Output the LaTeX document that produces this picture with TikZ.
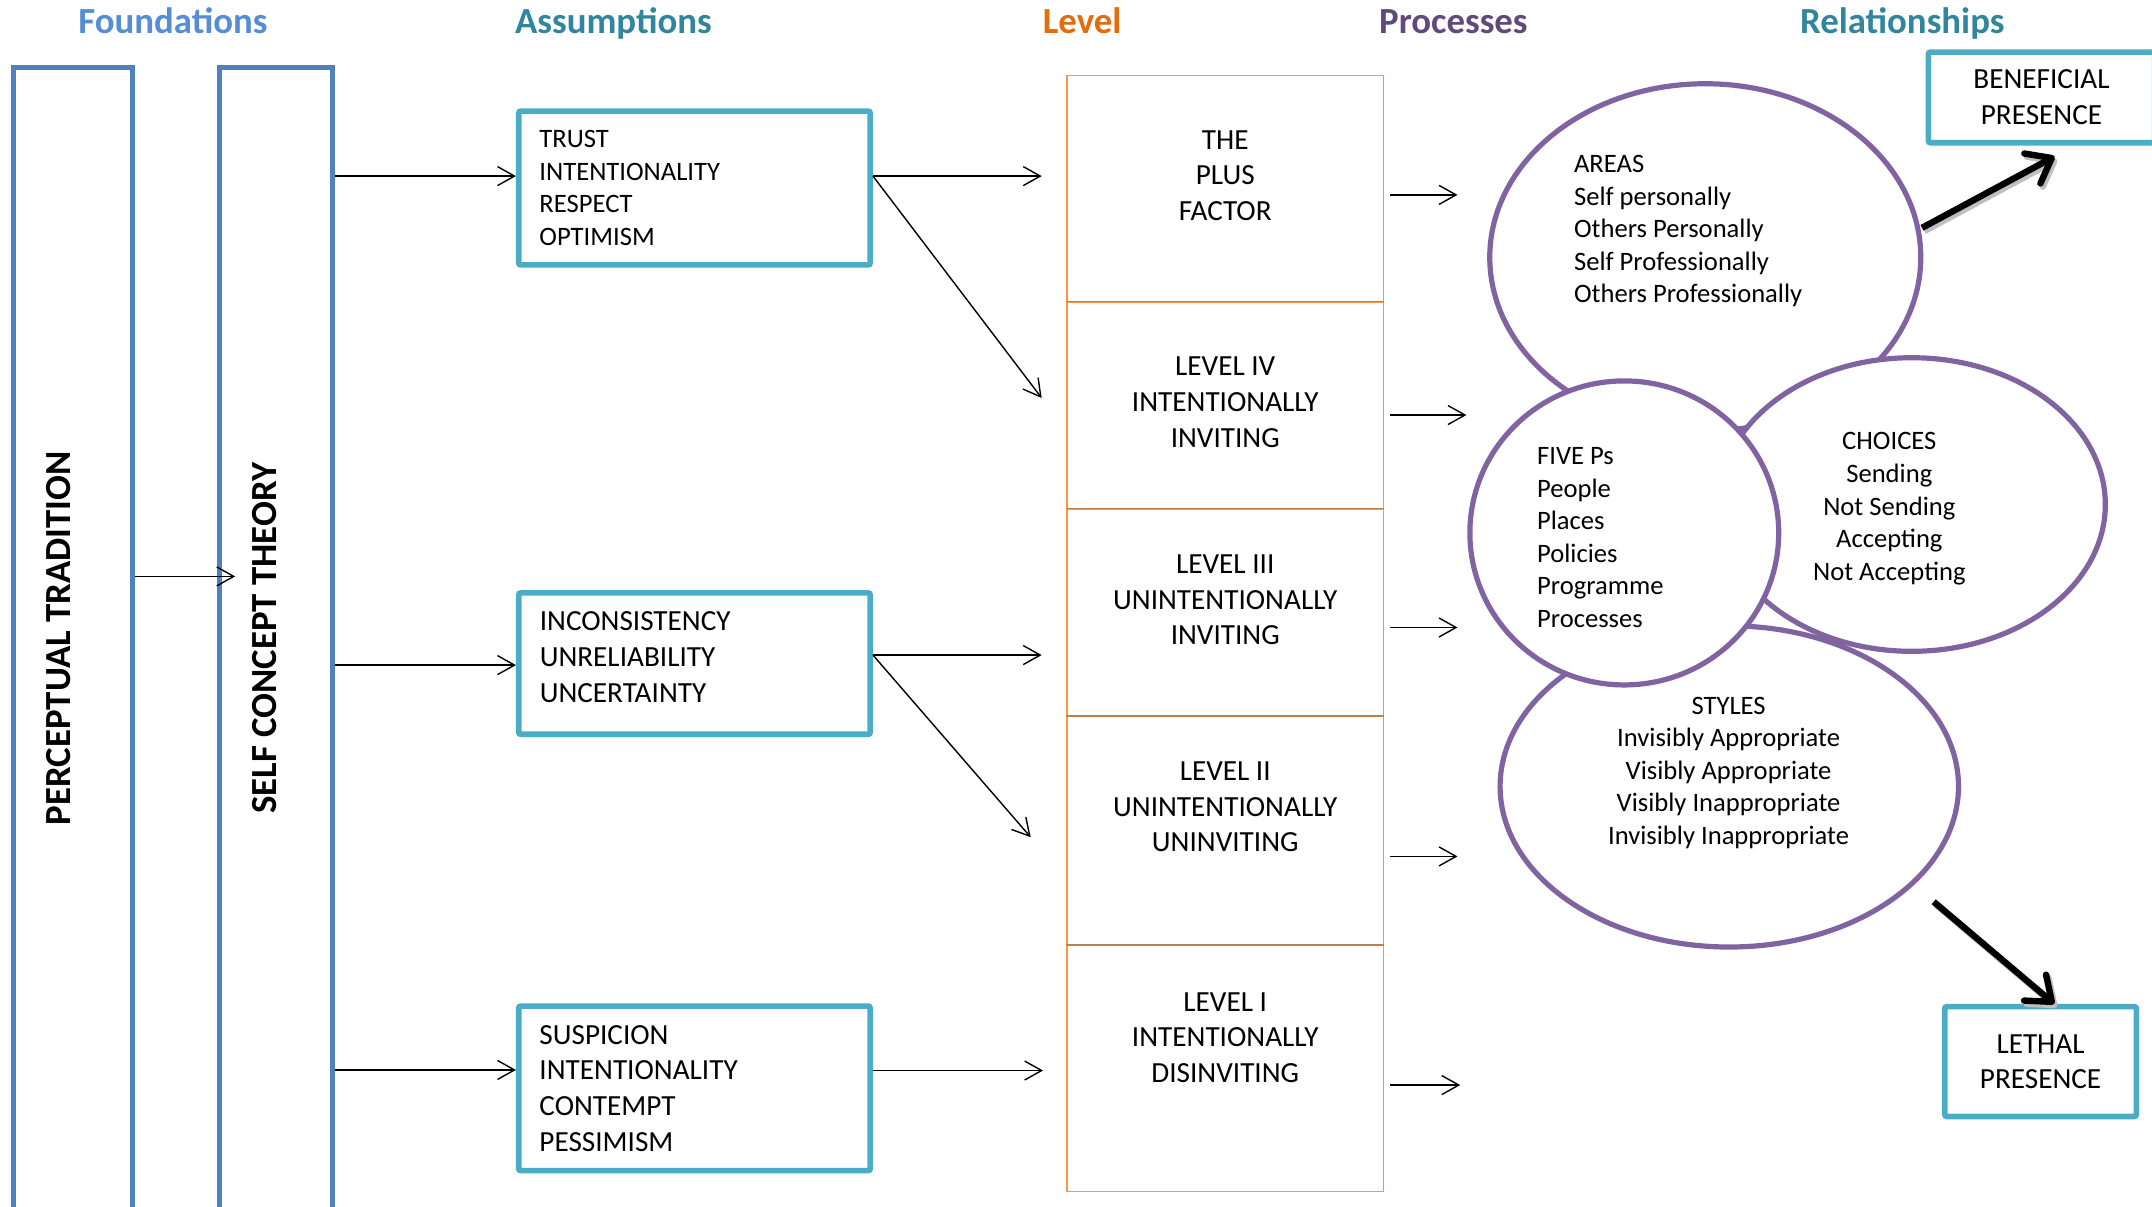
\documentclass[tikz,border=0pt]{standalone}
\usepackage{fontspec}
\setmainfont{Carlito}
\usetikzlibrary{arrows.meta,calc,shapes.geometric}
\definecolor{hdblue}{HTML}{558ED5}
\definecolor{hdteal}{HTML}{31859C}
\definecolor{hdorange}{HTML}{E46C0A}
\definecolor{hdpurple}{HTML}{604A7B}
\definecolor{fdblue}{HTML}{4F81BD}
\definecolor{asteal}{HTML}{4BACC6}
\definecolor{lvorange}{HTML}{F79646}
\definecolor{lvbrown}{HTML}{C0804D}
\definecolor{prpurple}{HTML}{8064A2}
\tikzset{
  head/.style={anchor=base,font=\fontsize{18.4}{22}\selectfont\bfseries},
  found/.style={draw=fdblue,line width=2.5pt,minimum height=577pt,inner sep=0pt},
  vtext/.style={rotate=90,inner sep=0pt,font=\fontsize{18.4}{22}\selectfont\bfseries},
  asm/.style={draw=asteal,line width=2.8pt,rounded corners=1pt,minimum width=175.7pt,
    inner xsep=10.3pt,text width=155pt,align=left,font=\fontsize{14.6}{17.84}\selectfont},
  lv/.style={draw=lvorange,line width=0.6pt,minimum width=158.2pt,inner sep=0pt},
  lvtext/.style={align=center,inner sep=0pt,font=\fontsize{14.6}{17.84}\selectfont},
  proc/.style={ellipse,draw=prpurple,line width=2.6pt,fill=white,inner sep=0pt},
  ptext/.style={align=left,inner sep=0pt,font=\fontsize{13.3}{16.26}\selectfont},
  rel/.style={draw=asteal,line width=2.8pt,rounded corners=1pt,align=center,
    font=\fontsize{14.6}{17.84}\selectfont},
  arr/.style={line width=0.7pt,-{Straight Barb[length=8.5pt,width=9.5pt]}},
  bigarr/.style={line width=3.2pt,-{Straight Barb[length=11pt,width=17pt,round]},
    preaction={draw,black!25,line width=3.2pt,transform canvas={shift={(1.2pt,-1.6pt)}}}},
}
\begin{document}
\begin{tikzpicture}[x=0.6862pt,y=-0.6862pt]
\useasboundingbox (0,0) rectangle (1568,879);
% headings
\node[head,hdblue] (hfound) at (126,24.3) {Foundations};
\node[head,hdteal] (hassume) at (447,24.3) {Assumptions};
\node[head,hdorange] (hlevel) at (788.5,24.3) {Level};
\node[head,hdpurple] (hproc) at (1059,24.3) {Processes};
\node[head,hdteal] (hrel) at (1386,24.3) {Relationships};
% foundations
\node[found,minimum width=59.3pt] (perc) at (53,469.6) {};
\node[found,minimum width=56.3pt] (sct) at (201.2,469.6) {};
\node[vtext] (perctext) at (43,465) {PERCEPTUAL TRADITION};
\node[vtext] (scttext) at (193,465) {SELF CONCEPT THEORY};
% assumptions
\node[asm,font=\fontsize{13.3}{16.26}\selectfont,minimum height=76.9pt] (trust) at (506,137)
  {TRUST\\INTENTIONALITY\\RESPECT\\OPTIMISM};
\node[asm,minimum height=70.7pt] (incons) at (506,483.5) {};
\node[lvtext,align=left,anchor=west] (incontext) at (393,478.8)
  {INCONSISTENCY\\UNRELIABILITY\\UNCERTAINTY};
\node[asm,minimum height=82.3pt] (suspic) at (506,793)
  {SUSPICION\\INTENTIONALITY\\CONTEMPT\\PESSIMISM};
% levels
\node[lv,minimum height=113.2pt] (lvPlus) at (892.75,137.5) {};
\node[lv,minimum height=103.6pt] (lvIV) at (892.75,295.5) {};
\node[lv,minimum height=103.6pt] (lvIII) at (892.75,446.5) {};
\node[lv,minimum height=114.6pt] (lvII) at (892.75,605.5) {};
\node[lv,minimum height=122.8pt] (lvI) at (892.75,778.5) {};
\foreach \c in {lvIV,lvIII,lvII,lvI}
  \draw[lvbrown,line width=0.8pt] (\c.north west) -- (\c.north east);
\node[lvtext] (tPlus) at (892.75,128) {THE\\PLUS\\FACTOR};
\node[lvtext] (tIV) at (892.75,293) {LEVEL IV\\INTENTIONALLY\\INVITING};
\node[lvtext] (tIII) at (892.75,437) {LEVEL III\\UNINTENTIONALLY\\INVITING};
\node[lvtext] (tII) at (892.75,588) {LEVEL II\\UNINTENTIONALLY\\UNINVITING};
\node[lvtext] (tI) at (892.75,756) {LEVEL I\\INTENTIONALLY\\DISINVITING};
% processes
\node[proc,minimum width=215.5pt,minimum height=173.6pt] (areas) at (1242.5,187.5) {};
\node[proc,minimum width=229.2pt,minimum height=160.6pt] (styles) at (1260,573) {};
\node[proc,minimum width=193.5pt,minimum height=146.8pt] (choices) at (1393,367.6) {};
\node[proc,minimum width=154.4pt,minimum height=152pt] (fiveps) at (1183.5,388.3) {};
\node[ptext,anchor=north west] (areastext) at (1146.6,113)
  {AREAS\\Self personally\\Others Personally\\Self Professionally\\Others Professionally};
\node[ptext,anchor=north west] (fivetext) at (1119.7,326)
  {FIVE Ps\\People\\Places\\Policies\\Programme\\Processes};
\node[ptext,align=center,anchor=north] (choicetext) at (1376.6,315)
  {CHOICES\\Sending\\Not Sending\\Accepting\\Not Accepting};
\node[ptext,align=center,anchor=north] (styletext) at (1259.5,507.4)
  {STYLES\\Invisibly Appropriate\\Visibly Appropriate\\Visibly Inappropriate\\Invisibly Inappropriate};
% relationships
\node[rel,minimum width=113.2pt,minimum height=45.3pt] (benef) at (1487.5,71) {BENEFICIAL\\PRESENCE};
\node[rel,minimum width=95.8pt,minimum height=54.9pt] (lethal) at (1486.8,773.5) {LETHAL\\PRESENCE};
% arrows
\draw[arr] (perc.east |- 0,420) -- ($(sct.west |- 0,420)+(13,0)$);
\draw[arr] (sct.east |- 0,128.3) -- (trust.west |- 0,128.3);
\draw[arr] (sct.east |- 0,484.6) -- (incons.west |- 0,484.6);
\draw[arr] (sct.east |- 0,779.6) -- (suspic.west |- 0,779.6);
\coordinate (toPlus) at (759,128.3);
\coordinate (toIV) at (759,290);
\coordinate (toIII) at (759,477.3);
\coordinate (toII) at (751,610);
\coordinate (toI) at (760,780);
\draw[arr] (trust.east |- toPlus) -- (toPlus);
\draw[arr] (trust.east |- toPlus) -- (toIV);
\draw[arr] (incons.east |- toIII) -- (toIII);
\draw[arr] (incons.east |- toIII) -- (toII);
\draw[arr] (suspic.east |- toI) -- (toI);
\foreach \c/\y/\e in {lvPlus/142/49,lvIV/302.4/55.5,lvIII/457.2/49,lvII/624/49,lvI/790.6/51}
  \draw[arr] ($(\c.east |- 0,\y)+(4.5,0)$) -- ++(\e,0);
\draw[bigarr] ($(areas.east)+(-1,-21.5)$) -- ($(benef.south)+(9.5,8)$); %up
\draw[bigarr] ($(styles.east)+(-20,84)$) -- ($(lethal.north)+(10,0)$); %down
\end{tikzpicture}
\end{document}
